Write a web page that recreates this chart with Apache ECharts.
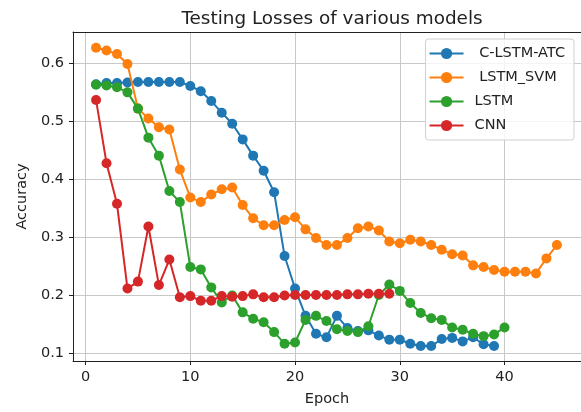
<!DOCTYPE html>
<html>
<head>
<meta charset="utf-8">
<script src="https://cdn.jsdelivr.net/npm/echarts@6/dist/echarts.min.js"></script>
<style>
  html, body { margin: 0; padding: 0; background: #fff; }
  #chart { width: 581px; height: 412px; }
</style>
</head>
<body>
<div id="chart"></div>
<script>
// Testing losses per epoch for four models
const cLstmAtc = [0.563, 0.565, 0.565, 0.566, 0.567, 0.567, 0.567, 0.567, 0.567, 0.560,
  0.551, 0.534, 0.514, 0.495, 0.468, 0.440, 0.414, 0.377, 0.267, 0.211,
  0.164, 0.133, 0.127, 0.164, 0.143, 0.138, 0.139, 0.130, 0.123, 0.123,
  0.116, 0.112, 0.112, 0.124, 0.126, 0.120, 0.127, 0.115, 0.112];
const lstmSvm = [0.626, 0.621, 0.615, 0.598, 0.521, 0.504, 0.489, 0.485, 0.416, 0.368,
  0.360, 0.373, 0.382, 0.385, 0.355, 0.332, 0.320, 0.320, 0.329, 0.334,
  0.313, 0.298, 0.286, 0.286, 0.298, 0.315, 0.318, 0.311, 0.292, 0.289,
  0.295, 0.292, 0.286, 0.278, 0.270, 0.268, 0.251, 0.248, 0.243, 0.240,
  0.240, 0.240, 0.237, 0.263, 0.286];
const lstm = [0.562, 0.561, 0.558, 0.549, 0.521, 0.471, 0.440, 0.379, 0.360, 0.248,
  0.244, 0.213, 0.187, 0.199, 0.170, 0.159, 0.153, 0.136, 0.116, 0.118,
  0.157, 0.164, 0.155, 0.141, 0.138, 0.136, 0.146, 0.200, 0.218, 0.207,
  0.186, 0.169, 0.160, 0.157, 0.144, 0.140, 0.133, 0.129, 0.132, 0.144];
const cnn = [0.536, 0.427, 0.357, 0.211, 0.223, 0.318, 0.217, 0.261, 0.196, 0.198,
  0.190, 0.190, 0.198, 0.197, 0.198, 0.201, 0.196, 0.196, 0.199, 0.200,
  0.200, 0.200, 0.200, 0.200, 0.201, 0.201, 0.202, 0.202, 0.202];

const seriesNames = [' C-LSTM-ATC', ' LSTM_SVM', 'LSTM', 'CNN'];
const seriesColors = ['#1f77b4', '#ff7f0e', '#2ca02c', '#d62728'];
const xTicks = [0, 10, 20, 30, 40];
const yTicks = [0.1, 0.2, 0.3, 0.4, 0.5, 0.6];

const FONT = 'DejaVu Sans';
const TEXT = '#222';
const X_MIN = -1.2, X_MAX = 47.3;

// epochs start at 1
const withEpochs = vals => vals.map((v, i) => [i + 1, v]);

const chart = echarts.init(document.getElementById('chart'), null, { renderer: 'canvas' });

const lineSeries = [cLstmAtc, lstmSvm, lstm, cnn].map((vals, k) => ({
  name: seriesNames[k],
  type: 'line',
  data: withEpochs(vals),
  symbol: 'circle',
  symbolSize: 10,
  showSymbol: true,
  color: seriesColors[k],
  lineStyle: { width: 2, color: seriesColors[k] },
  itemStyle: { color: seriesColors[k] },
  emphasis: { disabled: true },
  z: 2 + k
}));

chart.setOption({
  animation: false,
  backgroundColor: '#fff',
  textStyle: { fontFamily: FONT },
  title: {
    text: 'Testing Losses of various models',
    left: 327,
    top: 5,
    textAlign: 'center',
    textStyle: { fontFamily: FONT, fontSize: 18.4, fontWeight: 'normal', color: TEXT }
  },
  legend: {
    orient: 'vertical',
    right: 7,
    top: 39,
    padding: [7, 9, 7, 3],
    itemWidth: 34,
    itemHeight: 14,
    itemGap: 9,
    backgroundColor: 'rgba(255,255,255,0.8)',
    borderColor: '#d0d0d0',
    borderWidth: 1,
    borderRadius: 3,
    textStyle: { fontFamily: FONT, fontSize: 14.5, color: TEXT, padding: [0, 0, 0, 6] },
    data: seriesNames
  },
  grid: {
    left: 73,
    top: 32,
    width: 511,
    height: 331,
    show: false
  },
  xAxis: [{
    type: 'value',
    min: X_MIN,
    max: X_MAX,
    name: 'Epoch',
    nameLocation: 'middle',
    nameGap: 31,
    nameTextStyle: { fontFamily: FONT, fontSize: 14.5, color: TEXT },
    axisLine: { show: true, onZero: false, lineStyle: { color: '#222', width: 1 } },
    axisTick: { show: true, length: 4, inside: false, customValues: xTicks, lineStyle: { color: '#222' } },
    axisLabel: { customValues: xTicks, margin: 9, fontFamily: FONT, fontSize: 14.5, color: TEXT },
    splitLine: { show: true, lineStyle: { color: '#c8c8c8', width: 1 } }
  }, {
    // top spine only
    type: 'value',
    position: 'top',
    min: X_MIN,
    max: X_MAX,
    axisLine: { show: true, onZero: false, lineStyle: { color: '#222', width: 1 } },
    axisTick: { show: false },
    axisLabel: { show: false },
    splitLine: { show: false }
  }],
  yAxis: {
    type: 'value',
    min: 0.0862,
    max: 0.653,
    name: 'Accuracy',
    nameLocation: 'middle',
    nameGap: 43,
    nameTextStyle: { fontFamily: FONT, fontSize: 14.5, color: TEXT },
    axisLine: { show: true, onZero: false, lineStyle: { color: '#222', width: 1 } },
    axisTick: { show: true, length: 4, inside: false, customValues: yTicks, lineStyle: { color: '#222' } },
    axisLabel: {
      customValues: yTicks, margin: 9, fontFamily: FONT, fontSize: 14.5, color: TEXT,
      formatter: v => v.toFixed(1)
    },
    splitLine: { show: true, lineStyle: { color: '#c8c8c8', width: 1 } }
  },
  series: lineSeries
});
</script>
</body>
</html>
